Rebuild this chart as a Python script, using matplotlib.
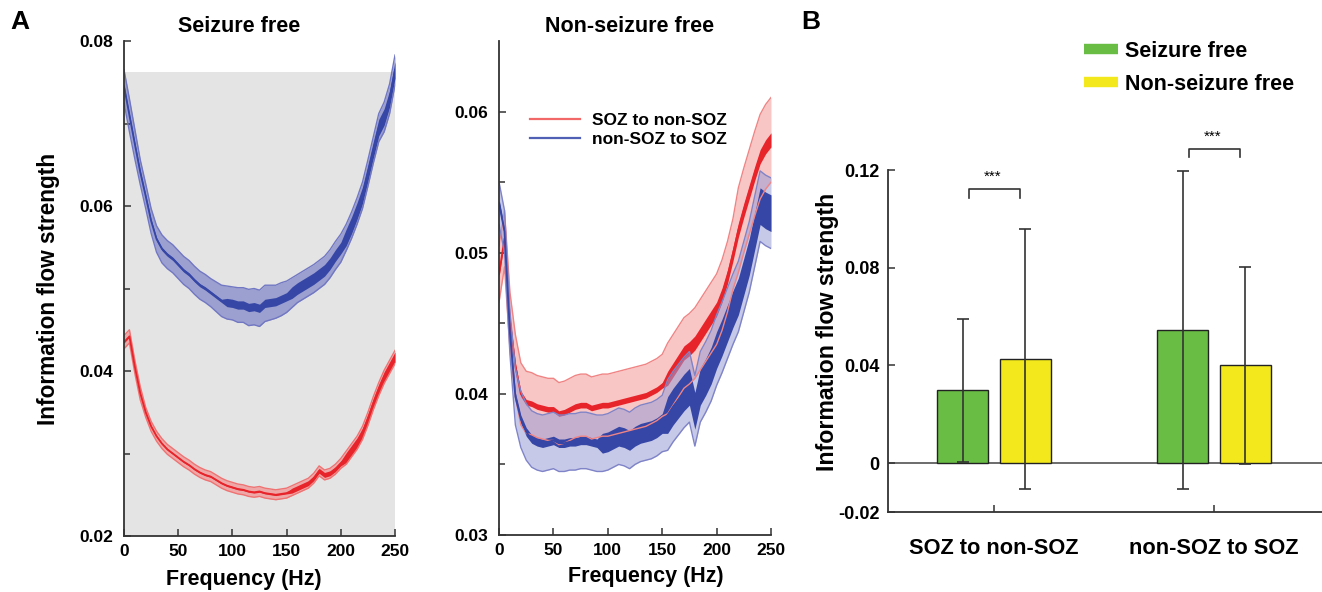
import numpy as np
import matplotlib
matplotlib.use("Agg")
from matplotlib import pyplot as plt
from matplotlib.lines import Line2D

plt.rcParams['font.family'] = ['Liberation Sans', 'DejaVu Sans']
plt.rcParams['font.weight'] = 'bold'
plt.rcParams['axes.labelweight'] = 'bold'

# frequency grid (Hz), values read every 5 Hz
freq = np.arange(0, 251, 5)

# Panel A, seizure free
sf_blue_mean = [0.0745, 0.0710, 0.0675, 0.0641, 0.0612, 0.0582, 0.0560, 0.0548, 0.0541, 0.0536,
                0.0529, 0.0522, 0.0517, 0.0510, 0.0504, 0.0500, 0.0495, 0.0490, 0.0485, 0.0483,
                0.0482, 0.0480, 0.0480, 0.0477, 0.0478, 0.0476, 0.0482, 0.0483, 0.0484, 0.0487,
                0.0490, 0.0495, 0.0500, 0.0504, 0.0508, 0.0512, 0.0517, 0.0522, 0.0530, 0.0540,
                0.0549, 0.0562, 0.0577, 0.0594, 0.0613, 0.0640, 0.0668, 0.0695, 0.0708, 0.0730,
                0.0765]
sf_blue_band = [0.0020, 0.0020, 0.0018, 0.0015, 0.0015, 0.0015, 0.0016, 0.0017, 0.0017, 0.0017,
                0.0017, 0.0017, 0.0017, 0.0017, 0.0017, 0.0017, 0.0017, 0.0018, 0.0019, 0.0020,
                0.0020, 0.0021, 0.0021, 0.0022, 0.0022, 0.0022, 0.0022, 0.0021, 0.0020, 0.0020,
                0.0019, 0.0018, 0.0017, 0.0017, 0.0017, 0.0017, 0.0017, 0.0017, 0.0017, 0.0017,
                0.0017, 0.0016, 0.0016, 0.0016, 0.0016, 0.0016, 0.0016, 0.0017, 0.0018, 0.0018,
                0.0018]
sf_blue_spread = [0.0002] * 19 + [0.0005] * 12 + [0.0007] * 10 + [0.0010] * 10
sf_red_mean = [0.0435, 0.0442, 0.0405, 0.0373, 0.0350, 0.0333, 0.0321, 0.0312, 0.0305, 0.0300,
               0.0295, 0.0290, 0.0286, 0.0281, 0.0277, 0.0274, 0.0272, 0.0268, 0.0264, 0.0261,
               0.0259, 0.0257, 0.0256, 0.0254, 0.0253, 0.0254, 0.0252, 0.0251, 0.0250, 0.0251,
               0.0252, 0.0255, 0.0258, 0.0261, 0.0264, 0.0270, 0.0279, 0.0274, 0.0276, 0.0281,
               0.0288, 0.0295, 0.0304, 0.0313, 0.0325, 0.0342, 0.0361, 0.0378, 0.0393, 0.0405,
               0.0417]
sf_red_band = [0.0008] * 4 + [0.0006] * 37 + [0.0008] * 10
sf_red_spread = [0.0001] * 31 + [0.0003] * 10 + [0.0006] * 10

# Panel A, non-seizure free
nsf_red_mean = [0.0485, 0.0510, 0.0452, 0.0420, 0.0400, 0.0394, 0.0393, 0.0391, 0.0390, 0.0389,
                0.0389, 0.0386, 0.0387, 0.0389, 0.0391, 0.0392, 0.0392, 0.0390, 0.0391, 0.0392,
                0.0392, 0.0393, 0.0394, 0.0395, 0.0396, 0.0397, 0.0398, 0.0399, 0.0401, 0.0403,
                0.0406, 0.0411, 0.0417, 0.0423, 0.0429, 0.0432, 0.0436, 0.0442, 0.0448, 0.0454,
                0.0460, 0.0470, 0.0483, 0.0499, 0.0516, 0.0530, 0.0543, 0.0556, 0.0568, 0.0575,
                0.0580]
nsf_red_band = [0.0020] * 3 + [0.0022] * 28 + [0.0025] * 13 + [0.0030] * 7
nsf_red_spread = [0.0002] * 31 + [0.0005] * 20
nsf_blue_mean = [0.0535, 0.0515, 0.0443, 0.0398, 0.0382, 0.0373, 0.0368, 0.0366, 0.0365, 0.0366,
                 0.0367, 0.0365, 0.0365, 0.0366, 0.0366, 0.0367, 0.0367, 0.0366, 0.0365, 0.0365,
                 0.0366, 0.0368, 0.0370, 0.0369, 0.0367, 0.0370, 0.0372, 0.0373, 0.0374, 0.0376,
                 0.0379, 0.0385, 0.0391, 0.0396, 0.0401, 0.0405, 0.0388, 0.0405, 0.0412, 0.0420,
                 0.0431, 0.0440, 0.0450, 0.0460, 0.0469, 0.0483, 0.0497, 0.0515, 0.0533, 0.0530,
                 0.0528]
nsf_blue_band = [0.0015] * 3 + [0.0020] * 28 + [0.0025] * 20
nsf_blue_spread = [0.0003] * 19 + [0.0007] * 12 + [0.0013] * 20

# Panel B
categories = ["SOZ to non-SOZ", "non-SOZ to SOZ"]
groups = ["Seizure free", "Non-seizure free"]
sf_strength = [0.0298, 0.0546]
sf_sd = [0.0292, 0.0652]
nsf_strength = [0.0426, 0.0401]
nsf_sd = [0.0531, 0.0404]

BLUE = '#3546a6'
RED = '#e8242b'
AX_C = '#333333'


def draw_curve(ax, mean, band, spread, line_c, fill_c, edge_c, fill_alpha):
    mean = np.array(mean)
    band = np.array(band)
    spread = np.array(spread)
    ax.fill_between(freq, mean - band, mean + band, color=fill_c, alpha=fill_alpha, lw=0)
    ax.plot(freq, mean + band, color=edge_c, lw=1)
    ax.plot(freq, mean - band, color=edge_c, lw=1)
    ax.fill_between(freq, mean - spread, mean + spread, color=line_c, lw=0)
    ax.plot(freq, mean, color=line_c, lw=1.3)


def style_axes(ax, labelsize):
    for s in ['top', 'right']:
        ax.spines[s].set_visible(False)
    for s in ['left', 'bottom']:
        ax.spines[s].set_color(AX_C)
        ax.spines[s].set_linewidth(1.3)
    ax.tick_params(which='both', direction='in', color=AX_C, labelsize=labelsize, width=1.1)
    ax.tick_params(which='major', length=5)
    ax.tick_params(which='minor', length=4)


fig = plt.figure(figsize=(13.22, 5.92), dpi=100)

# ---- A: seizure free
ax1 = fig.add_axes([0.0938, 0.0946, 0.2050, 0.8361])
ax1.axvspan(0, 250, ymin=0, ymax=(0.0762 - 0.02) / 0.06, color='#e4e4e4', lw=0, zorder=0)
draw_curve(ax1, sf_blue_mean, sf_blue_band, sf_blue_spread, BLUE, '#8a8fcc', '#7177c2', 0.8)
draw_curve(ax1, sf_red_mean, sf_red_band, sf_red_spread, RED, '#f39a9a', '#ef7373', 0.8)
ax1.set_xlim(0, 250)
ax1.set_ylim(0.02, 0.08)
ax1.set_xticks([0, 50, 100, 150, 200, 250])
ax1.set_yticks([0.02, 0.04, 0.06, 0.08])
ax1.set_yticks([0.03, 0.05, 0.07], minor=True)
ax1.set_yticklabels(['0.02', '0.04', '0.06', '0.08'])
style_axes(ax1, 12.5)
ax1.tick_params(axis='y', pad=8)
ax1.tick_params(axis='x', pad=6)
ax1.set_xlabel('Frequency (Hz)', fontsize=15.5)
ax1.xaxis.set_label_coords((244 - 124) / 271, -0.066)
ax1.set_ylabel('Information flow strength', fontsize=16.3)
ax1.yaxis.set_label_coords((60 - 124) / 271, 0.5)

# ---- A: non-seizure free
ax2 = fig.add_axes([0.3775, 0.0963, 0.2057, 0.8344])
draw_curve(ax2, nsf_red_mean, nsf_red_band, nsf_red_spread, RED, '#f7b4b4', '#f08484', 0.75)
draw_curve(ax2, nsf_blue_mean, nsf_blue_band, nsf_blue_spread, BLUE, '#9a9dd6', '#7f84c8', 0.55)
ax2.set_xlim(0, 250)
ax2.set_ylim(0.03, 0.065)
ax2.set_xticks([0, 50, 100, 150, 200, 250])
ax2.set_yticks([0.03, 0.04, 0.05, 0.06])
ax2.set_yticks([0.035, 0.045, 0.055], minor=True)
ax2.set_yticklabels(['0.03', '0.04', '0.05', '0.06'])
style_axes(ax2, 12.5)
ax2.tick_params(axis='y', pad=8)
ax2.tick_params(axis='x', pad=6)
ax2.set_xlabel('Frequency (Hz)', fontsize=15.5)
ax2.xaxis.set_label_coords((646 - 499) / 272, -0.062)
leg_handles = [Line2D([], [], color='#f26767', lw=1.6), Line2D([], [], color='#5060b4', lw=1.6)]
ax2.legend(leg_handles, ['SOZ to non-SOZ', 'non-SOZ to SOZ'], loc='upper left',
           bbox_to_anchor=(0.114, 0.855), frameon=False, borderaxespad=0, borderpad=0,
           handlelength=2.9, handletextpad=0.65, labelspacing=0.25,
           prop={'size': 12.5, 'weight': 'bold'})

fig.text(239 / 1322, 1 - 27 / 592, 'Seizure free', ha='center', va='center', fontsize=15.5)
fig.text(630 / 1322, 1 - 27 / 592, 'Non-seizure free', ha='center', va='center', fontsize=15.5)
fig.text(10 / 1322, 1 - 22 / 592, 'A', ha='left', va='center', fontsize=19)
fig.text(801 / 1322, 1 - 22 / 592, 'B', ha='left', va='center', fontsize=19)

# ---- B: bar chart
ax3 = fig.add_axes([0.6717, 0.1351, 0.3283, 0.5777])
cat_x = np.array([1, 2])
off, bw = 0.142, 0.232
err_kw = dict(ecolor='#333333', elinewidth=1.2, capsize=4, capthick=1.2)
ax3.bar(cat_x - off, sf_strength, bw, yerr=sf_sd, color='#69bd45', edgecolor='#222222',
        lw=1, error_kw=err_kw, label=groups[0], zorder=2)
ax3.bar(cat_x + off, nsf_strength, bw, yerr=nsf_sd, color='#f2e81b', edgecolor='#222222',
        lw=1, error_kw=err_kw, label=groups[1], zorder=2)
ax3.axhline(0, color='#444444', lw=1.1, zorder=1)
ax3.set_xlim(0.518, 2.49)
ax3.set_ylim(-0.02, 0.12)
ax3.set_yticks([-0.02, 0, 0.04, 0.08, 0.12])
ax3.set_yticklabels(['-0.02', '0', '0.04', '0.08', '0.12'])
ax3.set_xticks(cat_x)
ax3.set_xticklabels(categories, fontsize=15.7)
style_axes(ax3, 13)
ax3.tick_params(axis='y', pad=6)
ax3.tick_params(axis='x', pad=19, labelsize=15.7)
ax3.set_ylabel('Information flow strength', fontsize=16.7)
ax3.yaxis.set_label_coords((839 - 888) / 434, (512 - 332) / 342)

# significance brackets
for cx, top, leg in [(1, 0.1122, 0.1086), (2, 0.1286, 0.1253)]:
    xl, xr = cx - 0.113, cx + 0.117
    ax3.plot([xl, xl, xr, xr], [leg, top, top, leg], color='#333333', lw=1.2, clip_on=False)
    ax3.text(cx - 0.005, top + 0.0022, '***', ha='center', va='bottom', fontsize=11,
             weight='normal', clip_on=False)

bar_handles = [Line2D([], [], color='#69bd45', lw=7.5, solid_capstyle='butt'),
               Line2D([], [], color='#f2e81b', lw=7.5, solid_capstyle='butt')]
fig.legend(bar_handles, groups, loc='upper left', bbox_to_anchor=(1084 / 1322, 1 - 41 / 592),
           frameon=False, borderaxespad=0, borderpad=0, handlelength=1.6, handletextpad=0.3,
           labelspacing=0.55, prop={'size': 15.5, 'weight': 'bold'})

fig.savefig('out.png', dpi=100)
